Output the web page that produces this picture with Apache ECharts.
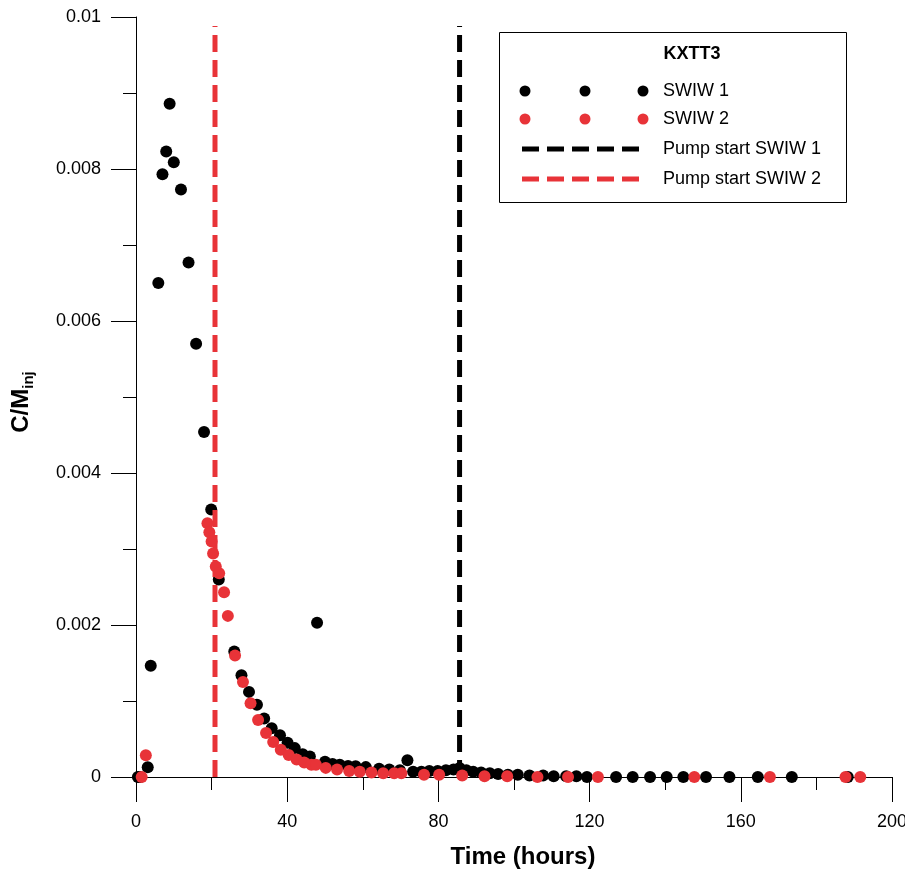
<!DOCTYPE html>
<html>
<head>
<meta charset="utf-8">
<script src="https://cdn.jsdelivr.net/npm/echarts/dist/echarts.min.js"></script>
<style>
html,body{margin:0;padding:0;background:#fff;}
#chart{width:905px;height:870px;}
</style>
</head>
<body>
<div id="chart"></div>
<script>
// ---- data ----
const swiw1X = [0.5,1.1,3.1,3.9,5.9,7.0,8.0,8.9,10.0,11.9,13.9,15.9,18.0,19.9,21.9,26.0,27.9,29.9,32.0,33.9,35.9,38.1,40.1,42.0,44.1,46.0,47.9,50.0,52.0,53.9,56.1,58.1,60.8,64.3,67.0,69.8,71.8,73.3,75.5,77.6,79.8,82.0,84.0,85.6,87.4,89.2,91.3,93.6,95.8,98.4,101.0,104.1,107.7,110.5,113.8,116.5,119.3,127.0,131.4,136.0,140.4,144.8,150.8,157.0,164.5,173.5,188.3];
const swiw1Y = [0,0,0.000128,0.001465,0.0065,0.00793,0.00823,0.00886,0.00809,0.00773,0.00677,0.0057,0.00454,0.00352,0.0026,0.00165,0.00134,0.00112,0.00095,0.00077,0.00064,0.00055,0.00045,0.00038,0.0003,0.00027,0.00203,0.0002,0.00017,0.00016,0.000145,0.00014,0.00013,0.00011,0.0001,0.00009,0.00022,0.00007,0.00007,0.00008,0.00008,0.00009,0.0001,0.00012,0.00009,0.00007,0.00006,0.00005,0.00004,0.00003,0.00003,0.00002,0.00002,0.00001,0.00001,0.00001,0,0,0,0,0,0,0,0,0,0,0];
const swiw2X = [1.5,2.6,18.9,19.4,20.0,20.4,21.1,22.0,23.3,24.3,26.2,28.3,30.3,32.3,34.4,36.3,38.3,40.4,42.5,44.5,46.4,47.6,50.2,53.2,56.4,59.2,62.3,65.4,68.3,70.2,76.2,80.2,86.3,92.2,98.2,106.2,114.3,122.2,147.7,167.7,187.7,191.6];
const swiw2Y = [0,0.000285,0.00334,0.00322,0.0031,0.00294,0.00277,0.00268,0.00243,0.00212,0.0016,0.00125,0.00097,0.00075,0.00058,0.00046,0.00036,0.00029,0.00023,0.00019,0.00016,0.00016,0.00012,0.0001,0.00008,0.00007,0.00006,0.00005,0.00005,0.00005,0.00003,0.00003,0.00002,0.00001,0.00001,0,0,0,0,0,0,0];
const pump1X = 85.6;
const pump2X = 20.9;
const pumpTopY = 0.00988;
const legendTitle = 'KXTT3';
const seriesNames = ['SWIW 1','SWIW 2','Pump start SWIW 1','Pump start SWIW 2'];
const xTitle = 'Time (hours)';

// ---- chart ----
const BLACK = '#000000';
const RED = '#e83338';
const FONT = '"Liberation Sans", Arial, sans-serif';
const zip = (xs, ys) => xs.map((x, i) => [x, ys[i]]);

const chart = echarts.init(document.getElementById('chart'), null, {renderer: 'canvas'});

const legendX = 499, legendY = 32, legendW = 347, legendH = 170;
const rowY = [91, 119, 149, 179];
const dotXs = [525, 585, 643];
const graphics = [
  {type: 'rect', shape: {x: legendX + 0.5, y: legendY + 0.5, width: legendW, height: legendH},
   style: {fill: '#fff', stroke: '#000', lineWidth: 1}, z: 100},
  {type: 'text', x: 692, y: 54, z: 101,
   style: {text: legendTitle, font: 'bold 18px ' + FONT, fill: '#000', textAlign: 'center', textVerticalAlign: 'middle'}}
];
[BLACK, RED].forEach((c, r) => {
  dotXs.forEach(dx => graphics.push({type: 'circle', z: 101, shape: {cx: dx, cy: rowY[r], r: 5.5}, style: {fill: c}}));
});
[BLACK, RED].forEach((c, r) => {
  graphics.push({type: 'line', z: 101, shape: {x1: 522, y1: rowY[2 + r], x2: 644, y2: rowY[2 + r]},
    style: {stroke: c, lineWidth: 5, lineDash: [17, 8]}});
});
seriesNames.forEach((n, i) => graphics.push({type: 'text', x: 663, y: rowY[i], z: 101,
  style: {text: n, font: '18px ' + FONT, fill: '#000', textAlign: 'left', textVerticalAlign: 'middle'}}));

const option = {
  backgroundColor: '#fff',
  animation: false,
  grid: {left: 136, right: 13, top: 17, bottom: 93, containLabel: false, outerBoundsMode: 'none'},
  xAxis: {
    type: 'value', min: 0, max: 200, interval: 40,
    name: xTitle, nameLocation: 'middle', nameGap: 68,
    nameTextStyle: {fontFamily: FONT, fontSize: 24, fontWeight: 'bold', color: '#000', padding: [0, 0, 0, 18]},
    axisLine: {show: true, onZero: false, lineStyle: {color: '#000', width: 1}},
    axisTick: {show: true, inside: false, length: 25, lineStyle: {color: '#000', width: 1}},
    minorTick: {show: true, splitNumber: 2, length: 13, lineStyle: {color: '#000', width: 1}},
    axisLabel: {fontFamily: FONT, fontSize: 18, color: '#000', margin: 36},
    splitLine: {show: false}
  },
  yAxis: {
    type: 'value', min: 0, max: 0.01, interval: 0.002,
    name: 'C/M{sub|inj}', nameLocation: 'middle', nameGap: 100, nameRotate: 90,
    nameTextStyle: {fontFamily: FONT, fontSize: 24, fontWeight: 'bold', color: '#000', padding: [0, 10, 0, 0],
      rich: {sub: {fontFamily: FONT, fontSize: 15, fontWeight: 'bold', color: '#000', verticalAlign: 'bottom', padding: [14, 0, 0, 0]}}},
    axisLine: {show: true, lineStyle: {color: '#000', width: 1}},
    axisTick: {show: true, inside: false, length: 25, lineStyle: {color: '#000', width: 1}},
    minorTick: {show: true, splitNumber: 2, length: 13, lineStyle: {color: '#000', width: 1}},
    axisLabel: {fontFamily: FONT, fontSize: 18, color: '#000', margin: 35,
      formatter: v => (v === 0 ? '0' : String(+v.toFixed(3)))},
    splitLine: {show: false}
  },
  graphic: graphics,
  series: [
    {name: seriesNames[0], type: 'scatter', data: zip(swiw1X, swiw1Y), symbol: 'circle', symbolSize: 12,
     itemStyle: {color: BLACK, opacity: 1}, z: 2, clip: false},
    {name: seriesNames[2], type: 'line', data: [[pump1X, 0], [pump1X, pumpTopY]], symbol: 'none',
     lineStyle: {color: BLACK, width: 5, type: [17, 8]}, z: 3},
    {name: seriesNames[3], type: 'line', data: [[pump2X, 0], [pump2X, pumpTopY]], symbol: 'none',
     lineStyle: {color: RED, width: 5, type: [17, 8]}, z: 3},
    {name: seriesNames[1], type: 'scatter', data: zip(swiw2X, swiw2Y), symbol: 'circle', symbolSize: 12,
     itemStyle: {color: RED, opacity: 1}, z: 4, clip: false}
  ]
};
chart.setOption(option);
</script>
</body>
</html>
